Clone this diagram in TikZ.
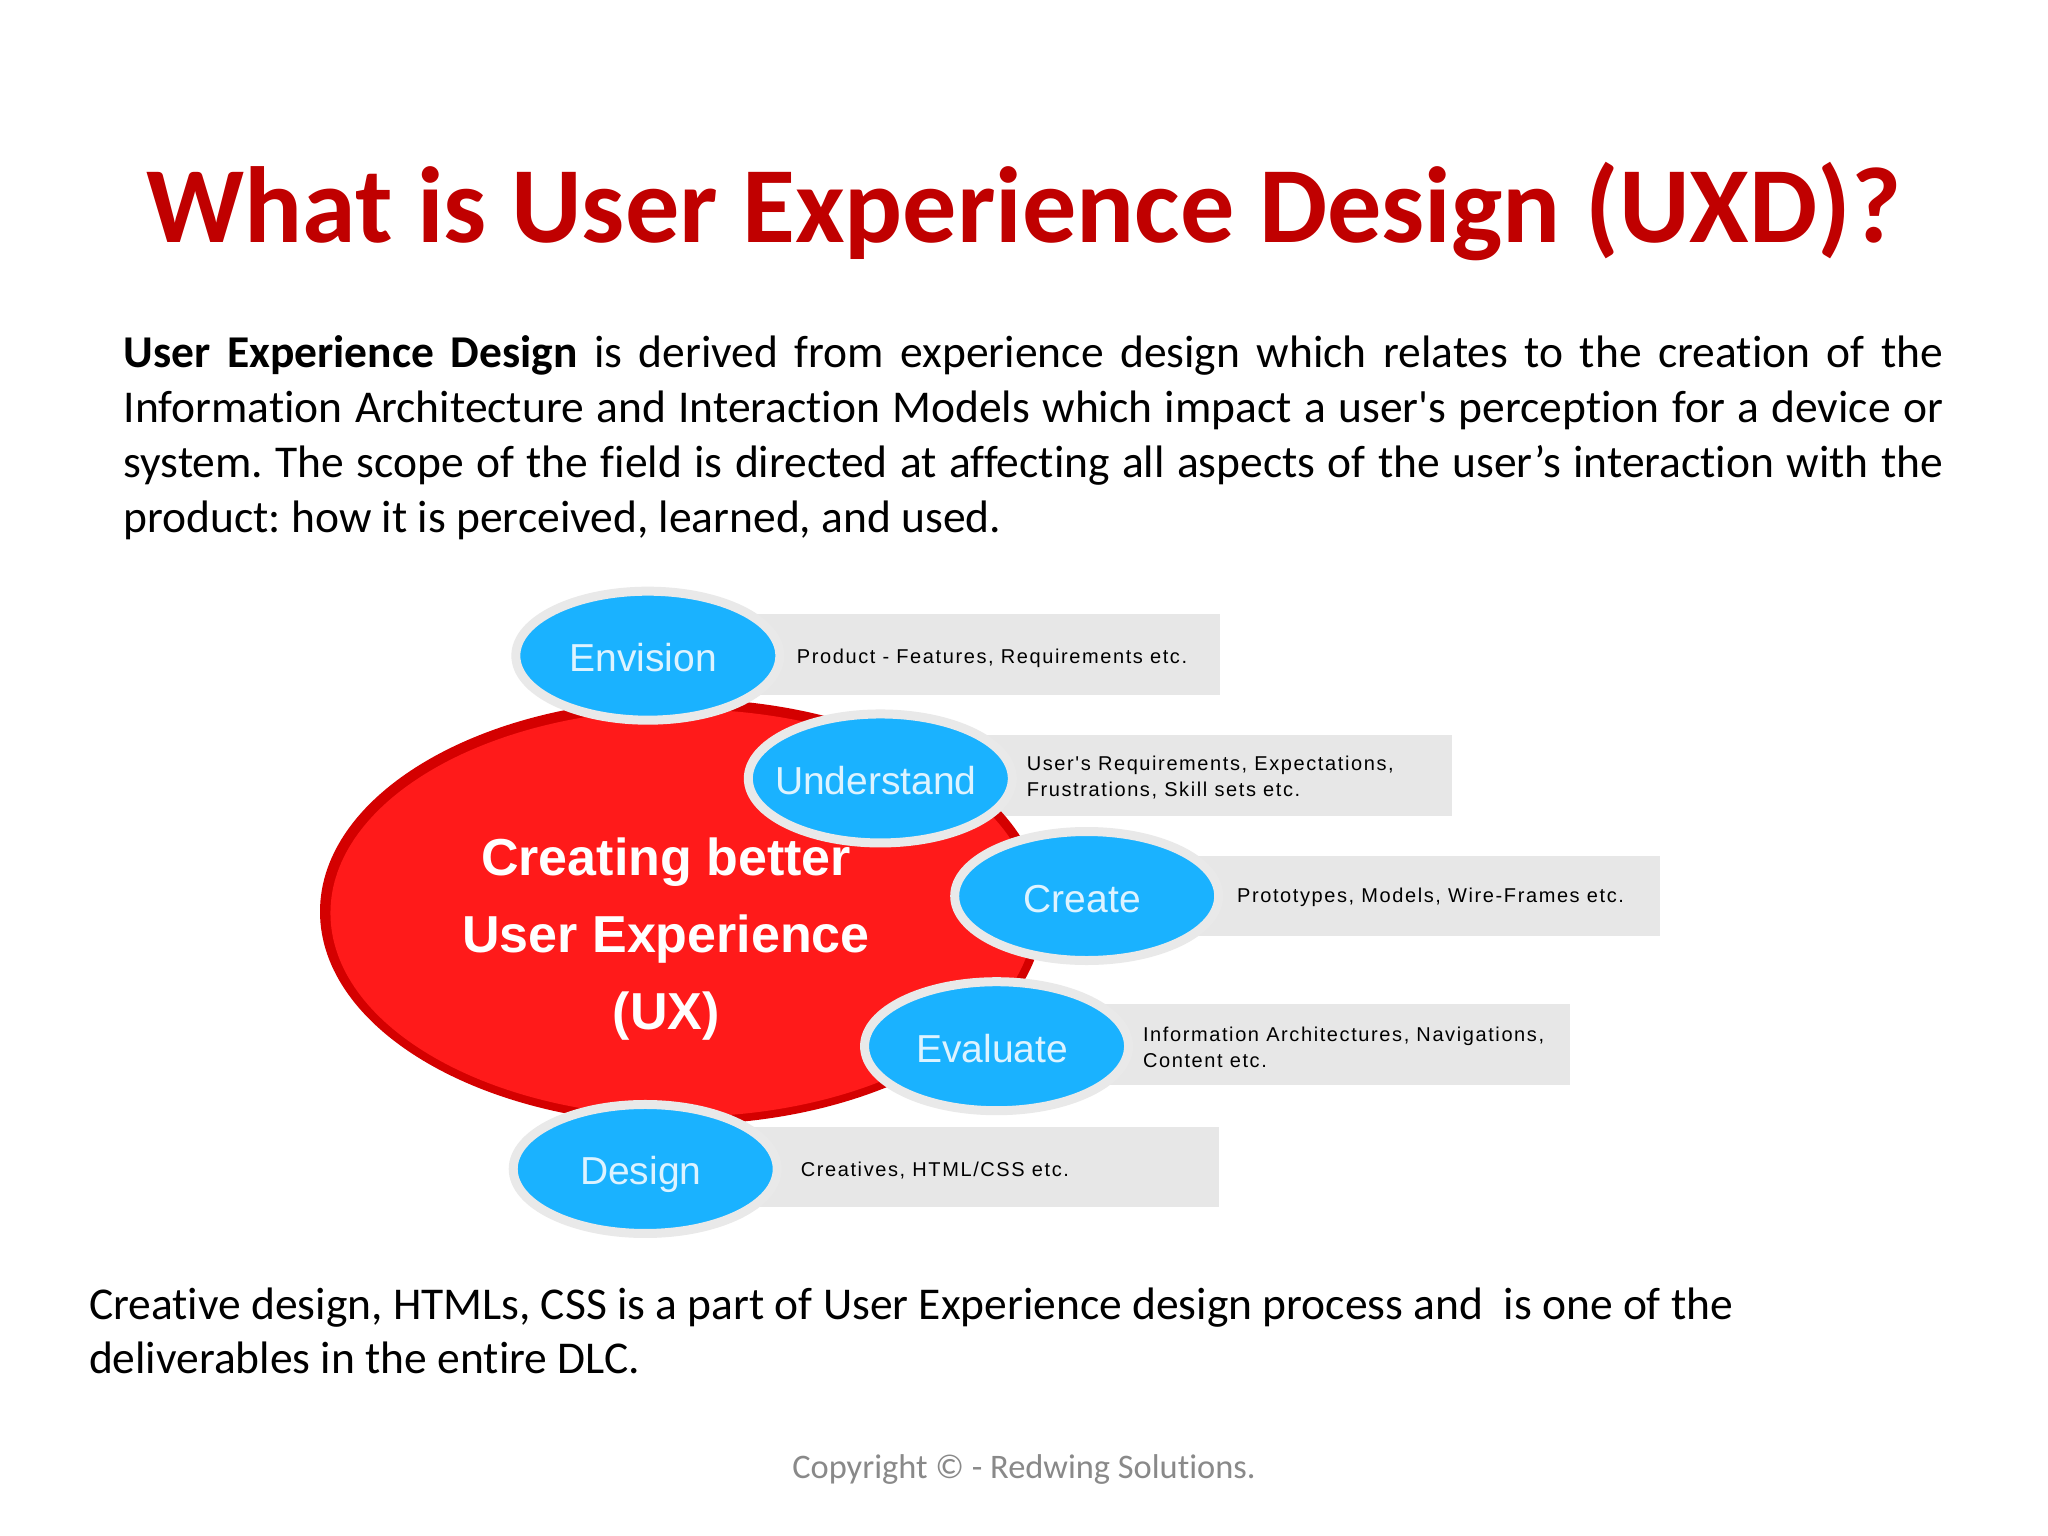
\documentclass[tikz,border=0pt]{standalone}
\usepackage{fontspec}
\usetikzlibrary{shapes.geometric}
\setmainfont{Carlito}
\newfontfamily\plainbody[Ligatures=NoCommon]{Carlito}
\newfontfamily\dia{Liberation Sans}
\newfontfamily\diasp[LetterSpace=8]{Liberation Sans}
\definecolor{titlered}{HTML}{C00000}
\definecolor{barg}{HTML}{E7E7E7}
\definecolor{ring}{HTML}{E9E9E9}
\definecolor{sky}{HTML}{1AB2FF}
\definecolor{skytxt}{HTML}{DDF3FF}
\definecolor{bigred}{HTML}{FF1A1A}
\definecolor{darkred}{HTML}{D40000}
\definecolor{foot}{HTML}{898989}
\newcommand{\fsz}[2]{\fontsize{#1}{#2}\selectfont}
\newcommand{\ovaltxt}[1]{\raisebox{-16pt}[0pt][0pt]{\makebox[0pt]{\hspace{-9pt}#1}}}
\tikzset{
  barbox/.style={fill=barg,draw=none},
  ringell/.style={ellipse,fill=sky,draw=ring,line width=9pt,minimum width=264pt,minimum height=129pt,inner sep=0pt,text=skytxt,font=\dia\fsz{39}{44}\selectfont},
  bartext/.style={anchor=west,inner sep=0pt,align=left,font=\diasp\fsz{20}{26}\selectfont,text=black},
  bigtext/.style={text=white,inner sep=0pt,font=\dia\bfseries\fsz{52}{56}\selectfont},
  bodytext/.style={anchor=base west,inner sep=0pt,font=\plainbody\frenchspacing\fsz{45.5}{54.8}\selectfont,text=black}
}
\begin{document}
\begin{tikzpicture}[x=1.30612pt,y=-1.30612pt]
\useasboundingbox (0,0) rectangle (1568,1176);
\fill[white] (0,0) rectangle (1568,1176);
\node[anchor=base,inner sep=0pt,text=titlered,font=\plainbody\bfseries\fsz{108.2}{120}\selectfont] (title) at (784,186) {What is User Experience Design (UXD)?};
\node[bodytext] (intro) at (94.5,281.5) {\parbox[t]{1819.5pt}{\textbf{User Experience Design} is derived from experience design which relates to the creation of the\linebreak Information Architecture and Interaction Models which impact a user's perception for a device or\linebreak system. The scope of the field is directed at affecting all aspects of the user’s interaction with the\linebreak product: how it is perceived, learned, and used.}};
% bars
\fill[barbox] (500,470) rectangle (934,532);
\fill[barbox] (680,563) rectangle (1112,625);
\fill[barbox] (835,655) rectangle (1271,717);
\fill[barbox] (765,769) rectangle (1202,831);
\fill[barbox] (500,863) rectangle (933,924);
% big ellipse
\fill[darkred] (522,698) ellipse [x radius=277,y radius=163];
\fill[bigred] (522.5,699) ellipse [x radius=269.5,y radius=156];
\node[bigtext] (l1) at (510,660) {Creating better};
\node[bigtext] (l2) at (510,719) {User Experience};
\node[bigtext] (l3) at (510,778) {(UX)};
% ovals
\node[ringell] (envision) at (496,502) {\ovaltxt{Envision}};
\node[ringell] (understand) at (674,596) {\ovaltxt{Understand}};
\node[ringell] (create) at (832,686) {\ovaltxt{Create}};
\node[ringell] (evaluate) at (763,801) {\ovaltxt{Evaluate}};
\node[ringell] (design) at (494,895) {\ovaltxt{Design}};
% bar labels
\node[bartext] (tenv) at (610,504) {Product - Features, Requirements etc.};
\node[bartext] (tund) at (786,595) {User's Requirements, Expectations,\\Frustrations, Skill sets etc.};
\node[bartext] (tcre) at (947,687) {Prototypes, Models, Wire-Frames etc.};
\node[bartext] (teva) at (875,802) {Information Architectures, Navigations,\\Content etc.};
\node[bartext] (tdes) at (613,896) {Creatives, HTML/CSS etc.};
% lower text
\node[bodytext] (outro) at (68,1010) {\parbox[t]{1800pt}{\raggedright Creative design, HTMLs, CSS is a part of User Experience design process and\ \ is one of the\\ deliverables in the entire DLC.}};
\node[anchor=base,inner sep=0pt,text=foot,font=\plainbody\fsz{34.4}{38}\selectfont] (copy) at (784,1132) {Copyright © - Redwing Solutions.};
\end{tikzpicture}
\end{document}
